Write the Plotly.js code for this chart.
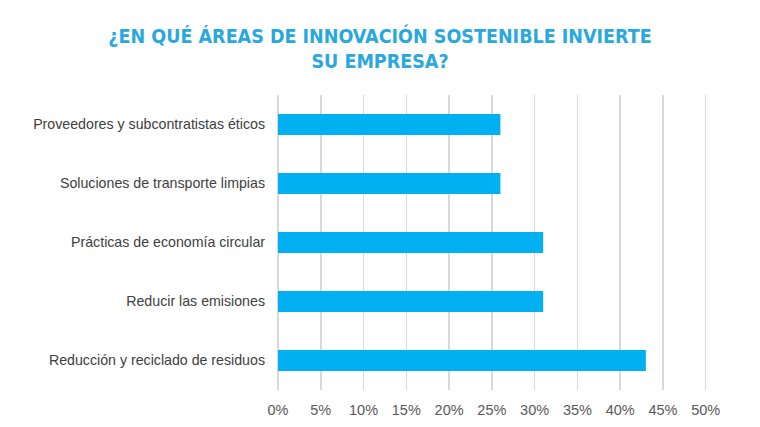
<!DOCTYPE html>
<html>
<head>
<meta charset="utf-8">
<script src="https://cdn.plot.ly/plotly-3.0.1.min.js"></script>
<style>html,body{margin:0;padding:0;background:#fff;}#chart{width:760px;height:427px;}</style>
</head>
<body>
<div id="chart"></div>
<script>
const categories = [
  "Reducción y reciclado de residuos",
  "Reducir las emisiones",
  "Prácticas de economía circular",
  "Soluciones de transporte limpias",
  "Proveedores y subcontratistas éticos"
];
const values = [0.43, 0.31, 0.31, 0.26, 0.26];
const tickValues = [0, 0.05, 0.10, 0.15, 0.20, 0.25, 0.30, 0.35, 0.40, 0.45, 0.50];
const tickLabels = ["0%", "5%", "10%", "15%", "20%", "25%", "30%", "35%", "40%", "45%", "50%"];
const titleText = "¿EN QUÉ ÁREAS DE INNOVACIÓN SOSTENIBLE INVIERTE<br>SU EMPRESA?";

const data = [{
  type: "bar",
  orientation: "h",
  y: categories,
  x: values,
  marker: {color: "#00B0F0"},
  hoverinfo: "none"
}];

const layout = {
  width: 760,
  height: 427,
  margin: {l: 278, r: 53, t: 95, b: 37, pad: 0},
  paper_bgcolor: "#ffffff",
  plot_bgcolor: "#ffffff",
  bargap: 0.64,
  showlegend: false,
  title: {
    text: titleText,
    x: 0.5, xanchor: "center",
    y: 0.9, yanchor: "top",
    font: {family: "DejaVu Sans Condensed, Liberation Sans Narrow, sans-serif", size: 19.5, color: "#29A8DF", weight: "bold"}
  },
  xaxis: {
    range: [0, 0.5015],
    tickvals: tickValues,
    ticktext: tickLabels,
    showgrid: true,
    gridcolor: "#D9D9D9",
    gridwidth: 1.5,
    zeroline: true,
    zerolinecolor: "#D9D9D9",
    zerolinewidth: 1.5,
    showline: false,
    ticks: "",
    ticklabelstandoff: 9,
    tickfont: {family: "Liberation Sans, Arial, sans-serif", size: 14.5, color: "#595959"},
    fixedrange: true
  },
  yaxis: {
    type: "category",
    showgrid: false,
    zeroline: false,
    showline: false,
    ticks: "",
    ticklabelstandoff: 12,
    tickfont: {family: "Liberation Sans, Arial, sans-serif", size: 14.2, color: "#404040"},
    fixedrange: true
  }
};

Plotly.newPlot("chart", data, layout, {displayModeBar: false, staticPlot: true});
</script>
</body>
</html>
